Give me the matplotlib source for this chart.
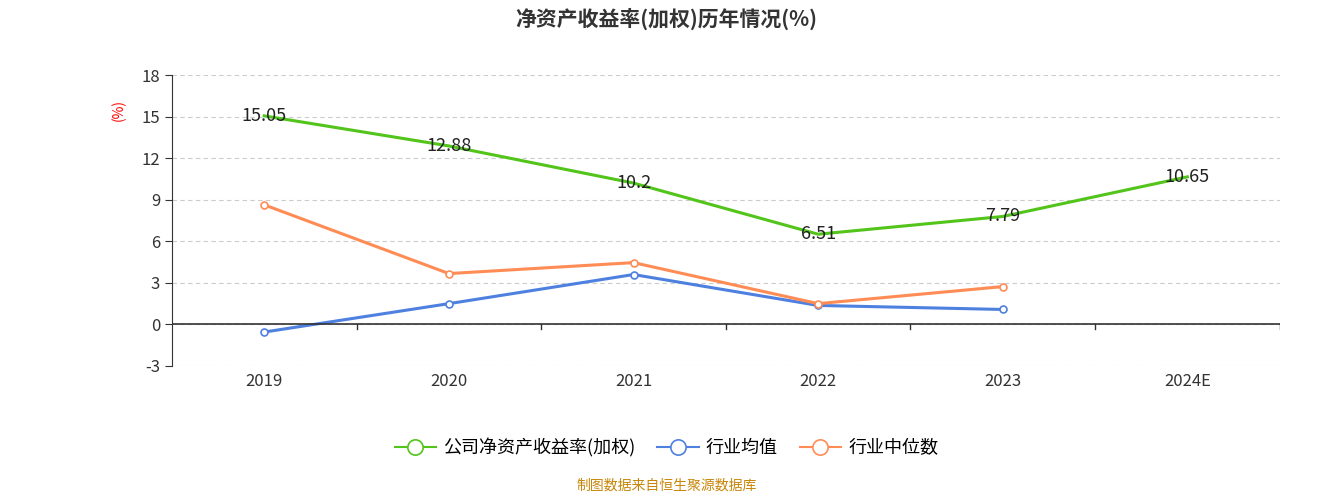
import matplotlib.pyplot as plt
from matplotlib.lines import Line2D
from matplotlib import font_manager

# pick whichever CJK family matplotlib actually finds
names = {f.name for f in font_manager.fontManager.ttflist}
cjk = [n for n in ["Noto Sans CJK SC", "Noto Sans CJK JP", "Noto Sans CJK TC",
                   "Noto Sans CJK KR", "Noto Sans SC"] if n in names]
plt.rcParams["font.family"] = cjk + ["DejaVu Sans"]
plt.rcParams["axes.unicode_minus"] = False

years = ["2019", "2020", "2021", "2022", "2023", "2024E"]
company_roe = [15.05, 12.88, 10.2, 6.51, 7.79, 10.65]
industry_avg = [-0.55, 1.5, 3.6, 1.37, 1.08]
industry_median = [8.63, 3.67, 4.46, 1.5, 2.73]

green = "#52c41a"
blue = "#4e80e0"
orange = "#ff8c55"

fig = plt.figure(figsize=(13.33, 5), dpi=100)
ax = fig.add_axes([0.129, 0.268, 0.831, 0.582])
x = list(range(len(years)))

ax.plot(x, company_roe, color=green, lw=2.2)
ax.plot(x[:len(industry_avg)], industry_avg, color=blue, lw=2.2, marker="o",
        ms=5, mfc="white", mew=1.2)
ax.plot(x[:len(industry_median)], industry_median, color=orange, lw=2.2, marker="o",
        ms=5, mfc="white", mew=1.2)
for i, v in enumerate(company_roe):
    ax.text(i, v, f"{v:g}", ha="center", va="center", fontsize=13, color="#222222")

ax.set_xlim(-0.5, len(years) - 0.5)
ax.set_ylim(-3, 18)
ax.set_yticks(range(-3, 19, 3))
ax.yaxis.grid(True, ls=(0, (4, 3)), color="#cccccc")
ax.set_axisbelow(True)
for s in ["top", "right", "bottom"]:
    ax.spines[s].set_visible(False)
ax.spines["left"].set_color("#333333")
ax.tick_params(axis="y", labelsize=12, colors="#333333", length=5)
ax.set_xticks([])
ax.axhline(0, color="#333333", lw=1.2)
for b in [i + 0.5 for i in range(len(years))]:
    ax.plot([b, b], [0, -0.35], color="#333333", lw=1)
for i, y in enumerate(years):
    ax.text(i, -3.5, y, ha="center", va="top", fontsize=12, color="#333333")
ax.text(-0.048, 0.88, "(%)", transform=ax.transAxes, rotation=90, color="red",
        fontsize=10, ha="center", va="center")

fig.suptitle("净资产收益率(加权)历年情况(%)", y=0.985, fontsize=15, fontweight="bold",
             color="#333333")

handles = [Line2D([], [], color=c, lw=1.5, marker="o", ms=11, mfc="white", mew=1.2)
           for c in [green, blue, orange]]
fig.legend(handles, ["公司净资产收益率(加权)", "行业均值", "行业中位数"], loc="center",
           bbox_to_anchor=(0.5, 0.105), ncol=3, frameon=False, fontsize=13,
           handlelength=2.3, columnspacing=1.2, handletextpad=0.4)
fig.text(0.5, 0.02, "制图数据来自恒生聚源数据库", ha="center", fontsize=10, color="#c8860a")

fig.savefig("out.png", dpi=100)
